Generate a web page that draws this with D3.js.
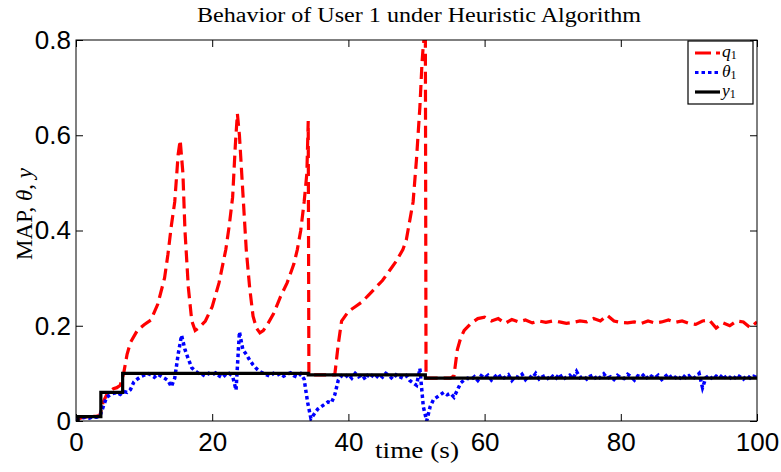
<!doctype html>
<html lang="en">
<head>
<meta charset="utf-8">
<title>Behavior of User 1 under Heuristic Algorithm</title>
<script src="https://d3js.org/d3.v7.min.js"></script>
<style>
    body { margin: 0; background: #fff; }
    .serif { font-family: "Liberation Serif", "DejaVu Serif", serif; }
    .tick text { font-family: "Liberation Sans", Arial, sans-serif; font-size: 26px; fill: #000; }
    .tick line, .domain { stroke: #000; }
</style>
</head>
<body>
<div id="chart"></div>
<script>
// q1 (red dashed), irregular times
const qTime = [0, 0.5, 1, 2, 3, 3.5, 4, 4.5, 5, 5.5, 6, 6.5, 7, 7.5, 8, 9, 10, 11, 12, 13,
    13.5, 14, 14.5, 15, 15.3, 15.7, 16, 16.5, 17, 17.5, 18, 19, 20, 21, 22, 22.5, 23, 23.4, 23.7, 24,
    24.5, 25, 25.5, 26, 26.5, 27, 27.5, 28, 29, 30, 31, 32, 32.5, 33, 33.5, 33.9, 34.1, 34.2, 35, 36,
    37, 38, 38.5, 39, 40, 41, 42, 43, 44, 45, 46, 47, 48, 48.5, 49, 49.5, 50, 50.5, 50.8, 51,
    51.3, 51.4, 52, 53, 54, 55, 55.5, 56, 56.5, 57, 58, 59, 60, 61, 62, 63, 64, 65, 66, 67,
    68, 69, 70, 71, 72, 73, 74, 75, 76, 77, 78, 79, 80, 81, 82, 83, 84, 85, 86, 87,
    88, 89, 90, 91, 92, 93, 94, 95, 96, 97, 98, 99, 100];
const qValue = [0.002, 0.005, 0.008, 0.009, 0.01, 0.012, 0.04, 0.055, 0.062, 0.068, 0.07, 0.075, 0.1, 0.14, 0.165, 0.19, 0.202, 0.212, 0.245, 0.3,
    0.35, 0.41, 0.46, 0.56, 0.59, 0.52, 0.4, 0.28, 0.21, 0.19, 0.195, 0.21, 0.24, 0.29, 0.36, 0.41, 0.47, 0.58, 0.645, 0.6,
    0.48, 0.36, 0.28, 0.22, 0.195, 0.185, 0.19, 0.2, 0.225, 0.26, 0.29, 0.33, 0.36, 0.4, 0.46, 0.52, 0.63, 0.097, 0.097, 0.097,
    0.097, 0.097, 0.16, 0.21, 0.23, 0.24, 0.25, 0.265, 0.28, 0.295, 0.315, 0.335, 0.36, 0.38, 0.42, 0.46, 0.55, 0.66, 0.75, 0.79,
    0.82, 0.09, 0.09, 0.09, 0.09, 0.09, 0.095, 0.15, 0.175, 0.19, 0.205, 0.215, 0.218, 0.21, 0.215, 0.205, 0.213, 0.208, 0.212, 0.206,
    0.21, 0.207, 0.21, 0.208, 0.205, 0.207, 0.21, 0.208, 0.215, 0.21, 0.222, 0.21, 0.207, 0.206, 0.208, 0.205, 0.21, 0.206, 0.208, 0.212,
    0.207, 0.21, 0.205, 0.203, 0.21, 0.212, 0.195, 0.206, 0.2, 0.21, 0.208, 0.196, 0.208];

// theta1 (blue dotted), sampled every 0.5 s from 0 to 100
const thetaStep = 0.5;
const thetaValue = [
    0.002, 0.005, 0.007, 0.008, 0.006, 0.009, 0.008, 0.010, 0.030, 0.050,
    0.055, 0.058, 0.060, 0.056, 0.062, 0.060, 0.066, 0.082, 0.088, 0.093,
    0.096, 0.100, 0.097, 0.092, 0.098, 0.094, 0.090, 0.085, 0.072, 0.090,
    0.140, 0.180, 0.150, 0.130, 0.112, 0.105, 0.100, 0.098, 0.094, 0.100,
    0.097, 0.101, 0.095, 0.091, 0.098, 0.100, 0.094, 0.065, 0.187, 0.150,
    0.140, 0.128, 0.118, 0.110, 0.104, 0.100, 0.097, 0.094, 0.100, 0.096,
    0.100, 0.094, 0.098, 0.101, 0.095, 0.092, 0.099, 0.088, 0.040, 0.005,
    0.015, 0.025, 0.030, 0.035, 0.040, 0.038, 0.055, 0.085, 0.095, 0.091,
    0.098, 0.090, 0.100, 0.093, 0.097, 0.087, 0.100, 0.095, 0.090, 0.098,
    0.092, 0.100, 0.095, 0.088, 0.097, 0.093, 0.090, 0.095, 0.085, 0.080,
    0.075, 0.110, 0.030, 0.000, 0.030, 0.045, 0.050, 0.055, 0.060, 0.055,
    0.058, 0.050, 0.065, 0.080, 0.086, 0.090, 0.087, 0.093, 0.085, 0.095,
    0.090, 0.096, 0.086, 0.093, 0.099, 0.088, 0.092, 0.097, 0.085, 0.094,
    0.091, 0.098, 0.087, 0.095, 0.090, 0.100, 0.088, 0.093, 0.096, 0.086,
    0.094, 0.090, 0.099, 0.087, 0.092, 0.096, 0.089, 0.104, 0.091, 0.095,
    0.088, 0.094, 0.097, 0.086, 0.092, 0.099, 0.090, 0.093, 0.087, 0.096,
    0.091, 0.089, 0.098, 0.093, 0.086, 0.095, 0.092, 0.099, 0.088, 0.094,
    0.090, 0.096, 0.087, 0.093, 0.099, 0.089, 0.092, 0.086, 0.097, 0.091,
    0.095, 0.088, 0.093, 0.100, 0.070, 0.091, 0.096, 0.087, 0.094, 0.090,
    0.098, 0.089, 0.092, 0.086, 0.097, 0.093, 0.088, 0.096, 0.090, 0.094,
    0.091];

// y1 (black step)
const yTime = [0, 0.3, 3.65, 6.85, 34.1, 51.3, 100];
const yValue = [0, 0.009, 0.06, 0.1, 0.097, 0.09, 0.09];

const xTicks = [0, 20, 40, 60, 80, 100];
const yTicks = [0, 0.2, 0.4, 0.6, 0.8];

const W = 781, H = 472;
const margin = {left: 76, right: 24, top: 40, bottom: 51};
const width = W - margin.left - margin.right;
const height = H - margin.top - margin.bottom;

const svg = d3.select("#chart").append("svg")
    .attr("width", W)
    .attr("height", H);

const x = d3.scaleLinear().domain([0, 100]).range([0, width]);
const y = d3.scaleLinear().domain([0, 0.8]).range([height, 0]);

const g = svg.append("g").attr("transform", `translate(${margin.left},${margin.top})`);

g.append("clipPath").attr("id", "clip")
    .append("rect").attr("width", width).attr("height", height);

// axes with inward ticks
g.append("g").attr("transform", `translate(0,${height})`)
    .call(d3.axisBottom(x).tickValues(xTicks).tickSize(-7).tickPadding(12).tickFormat(d3.format("d")))
    .call(a => a.select(".domain").remove());
g.append("g")
    .call(d3.axisTop(x).tickValues(xTicks).tickSize(-7).tickFormat(""))
    .call(a => a.select(".domain").remove());
g.append("g")
    .call(d3.axisLeft(y).tickValues(yTicks).tickSize(-7).tickPadding(5).tickFormat(d => d === 0 ? "0" : d3.format(".1f")(d)))
    .call(a => a.select(".domain").remove());
g.append("g").attr("transform", `translate(${width},0)`)
    .call(d3.axisRight(y).tickValues(yTicks).tickSize(-7).tickFormat(""))
    .call(a => a.select(".domain").remove());

g.selectAll(".tick text").attr("fill", "#000");
g.selectAll(".tick line").attr("stroke", "#333");

const plot = g.append("g").attr("clip-path", "url(#clip)");

const lineQ = d3.line().x((d, i) => x(qTime[i])).y(d => y(d));
plot.append("path")
    .attr("d", lineQ(qValue))
    .attr("fill", "none")
    .attr("stroke", "#ff0000")
    .attr("stroke-width", 3.2)
    .attr("stroke-dasharray", "12,6");

const lineT = d3.line().x((d, i) => x(i * thetaStep)).y(d => y(d));
plot.append("path")
    .attr("d", lineT(thetaValue))
    .attr("fill", "none")
    .attr("stroke", "#0000ff")
    .attr("stroke-width", 3.5)
    .attr("stroke-dasharray", "3.5,3");

const lineY = d3.line().x((d, i) => x(yTime[i])).y(d => y(d)).curve(d3.curveStepAfter);
plot.append("path")
    .attr("d", lineY(yValue))
    .attr("fill", "none")
    .attr("stroke", "#000")
    .attr("stroke-width", 3.2);

// frame
g.append("rect")
    .attr("width", width).attr("height", height)
    .attr("fill", "none").attr("stroke", "#000").attr("stroke-width", 1);

// title
svg.append("text").attr("class", "serif")
    .attr("x", 419).attr("y", 22)
    .attr("text-anchor", "middle")
    .attr("font-size", 20)
    .attr("textLength", 444)
    .attr("lengthAdjust", "spacingAndGlyphs")
    .text("Behavior of User 1 under Heuristic Algorithm");

// x label
svg.append("text").attr("class", "serif")
    .attr("x", 417).attr("y", 458)
    .attr("text-anchor", "middle")
    .attr("font-size", 23)
    .attr("textLength", 84)
    .attr("lengthAdjust", "spacingAndGlyphs")
    .text("time (s)");

// y label
const yl = svg.append("text").attr("class", "serif")
    .attr("transform", "translate(32,214) rotate(-90)")
    .attr("text-anchor", "middle")
    .attr("font-size", 23);
yl.append("tspan").text("MAP, ");
yl.append("tspan").attr("font-style", "italic").text("θ");
yl.append("tspan").text(", ");
yl.append("tspan").attr("font-style", "italic").text("y");

// legend
const legendItems = [
    {name: "q", color: "#ff0000", dash: "16,5,7"},
    {name: "θ", color: "#0000ff", dash: "3.5,3"},
    {name: "y", color: "#000", dash: null}
];
const legend = svg.append("g").attr("transform", "translate(688,41)");
legend.append("rect")
    .attr("width", 65).attr("height", 63)
    .attr("fill", "#fff").attr("stroke", "#000").attr("stroke-width", 1.2);
legendItems.forEach((d, i) => {
    const yy = 12 + i * 19.5;
    legend.append("line")
        .attr("x1", 7).attr("x2", 32).attr("y1", yy).attr("y2", yy)
        .attr("stroke", d.color).attr("stroke-width", 3.2)
        .attr("stroke-dasharray", d.dash);
    const t = legend.append("text").attr("class", "serif")
        .attr("x", 34).attr("y", yy + 4)
        .attr("font-size", 17.5);
    t.append("tspan").attr("font-style", "italic").text(d.name);
    t.append("tspan").attr("font-size", 12).attr("dy", 2).text("1");
});
</script>
</body>
</html>
